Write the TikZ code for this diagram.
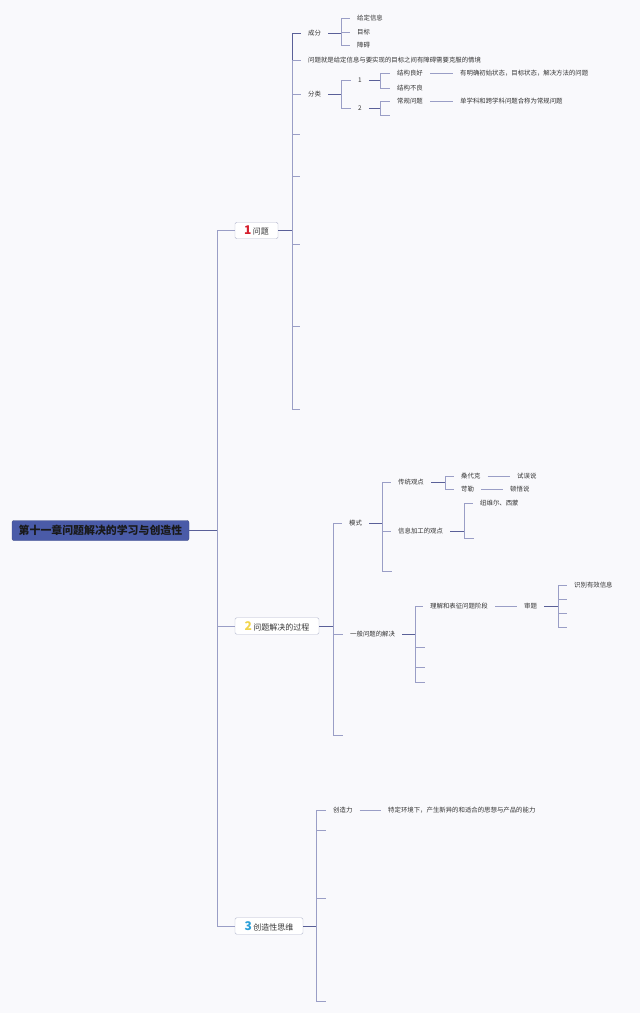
\documentclass[tikz,border=0pt]{standalone}
\usepackage{fontspec}
\setmainfont{Noto Sans CJK SC}
\definecolor{bgc}{HTML}{F9F9FC}
\definecolor{brc}{HTML}{9A9EC6}
\definecolor{dkc}{HTML}{5A6098}
\definecolor{txc}{HTML}{333333}
\definecolor{rootc}{HTML}{4A5BA8}
\definecolor{boxc}{HTML}{B8BBD0}
\definecolor{numa}{HTML}{D6202E}
\definecolor{numb}{HTML}{F2D54A}
\definecolor{numc}{HTML}{2A9FD8}
\tikzset{
  lbl/.style={anchor=west,inner xsep=7pt,inner ysep=1pt,text=txc,font=\fontsize{6.4}{7}\selectfont},
  br/.style={draw=brc,line width=0.7pt},
  dk/.style={draw=dkc,line width=0.8pt},
  rootbox/.style={fill=rootc,draw=rootc!80!black,rounded corners=2pt,minimum width=177pt,minimum height=20pt,inner sep=0pt,text=black!90,font=\fontsize{10.9}{12}\selectfont\bfseries},
  topic/.style={fill=white,draw=boxc,rounded corners=1.5pt,minimum height=16.5pt,inner sep=0pt,text=txc,font=\fontsize{8}{9}\selectfont}
}
\begin{document}
\begin{tikzpicture}[x=1pt,y=-1pt]
\fill[bgc] (0,0) rectangle (640,1013);
\useasboundingbox (0,0) rectangle (640,1013);

% root and main topics
\node[rootbox] (root) at (100.5,530.5) {第十一章问题解决的学习与创造性};
\node[topic,minimum width=43pt] (n1) at (256.5,230.5) {{\fontsize{12}{12}\selectfont\bfseries\color{numa}1}\,问题};
\node[topic,minimum width=84pt] (n2) at (277,626) {{\fontsize{12}{12}\selectfont\bfseries\color{numb}2}\,问题解决的过程};
\node[topic,minimum width=68pt] (n3) at (269,926) {{\fontsize{12}{12}\selectfont\bfseries\color{numc}3}\,创造性思维};

\coordinate (jr) at (217,530.5);
\draw[dk] (root.east) -- (jr);
\draw[br] (jr) |- (n1.west);
\draw[br] (jr) |- (n2.west);
\draw[br] (jr) |- (n3.west);

% ---------- section 1 ----------
\coordinate (j1) at (292,230.5);
\draw[dk] (n1.east) -- (j1);
\node[lbl] (c1) at (301,33) {成分};
\node[lbl] (c2) at (301,60) {问题就是给定信息与要实现的目标之间有障碍需要克服的情境};
\node[lbl] (c3) at (301,94) {分类};
\foreach \y/\n in {134/a,176/b,244/c,326/d,409/e} \coordinate (e1\n) at (300,\y);
\draw[dk] (j1) |- (c1.west);
\draw[br] (j1) |- (c2.west);
\draw[br] (j1) |- (c3.west);
\foreach \n in {a,b,c,d,e} \draw[br] (j1) |- (e1\n);

\coordinate (j11) at (341,33);
\draw[dk] (c1.east) -- (j11);
\node[lbl] (c1a) at (350,18) {给定信息};
\node[lbl] (c1b) at (350,32) {目标};
\node[lbl] (c1c) at (350,45) {障碍};
\draw[br] (j11) |- (c1a.west);
\draw[br] (j11) |- (c1b.west);
\draw[br] (j11) |- (c1c.west);

\coordinate (j13) at (341,94);
\draw[dk] (c3.east) -- (j13);
\node[lbl] (c31) at (351,80) {1};
\node[lbl] (c32) at (351,108) {2};
\draw[br] (j13) |- (c31.west);
\draw[br] (j13) |- (c32.west);

\coordinate (j131) at (380,80);
\draw[dk] (c31.east) -- (j131);
\node[lbl] (c311) at (390,73) {结构良好};
\node[lbl] (c312) at (390,88) {结构不良};
\draw[br] (j131) |- (c311.west);
\draw[br] (j131) |- (c312.west);
\node[lbl] (c3111) at (453,73) {有明确初始状态，目标状态，解决方法的问题};
\draw[br] (c311.east) -- (c3111.west);

\coordinate (j132) at (380,108);
\draw[dk] (c32.east) -- (j132);
\node[lbl] (c321) at (390,101) {常规问题};
\coordinate (e132) at (390,115);
\draw[br] (j132) |- (c321.west);
\draw[br] (j132) |- (e132);
\node[lbl] (c3211) at (453,101) {单学科和跨学科问题合称为常规问题};
\draw[br] (c321.east) -- (c3211.west);

% ---------- section 2 ----------
\coordinate (j2) at (333,626);
\draw[dk] (n2.east) -- (j2);
\node[lbl] (m) at (342,523) {模式};
\node[lbl] (g) at (343,634) {一般问题的解决};
\coordinate (e2) at (343,735);
\draw[br] (j2) |- (m.west);
\draw[br] (j2) |- (g.west);
\draw[br] (j2) |- (e2);

\coordinate (j21) at (382,523);
\draw[dk] (m.east) -- (j21);
\node[lbl] (t) at (391,482) {传统观点};
\node[lbl] (x) at (391,531) {信息加工的观点};
\coordinate (e21) at (392,571);
\draw[br] (j21) |- (t.west);
\draw[br] (j21) |- (x.west);
\draw[br] (j21) |- (e21);

\coordinate (j211) at (445,482);
\draw[dk] (t.east) -- (j211);
\node[lbl] (t1) at (454,476) {桑代克};
\node[lbl] (t2) at (454,489) {苛勒};
\draw[br] (j211) |- (t1.west);
\draw[br] (j211) |- (t2.west);
\node[lbl] (t11) at (510,476) {试误说};
\node[lbl] (t21) at (503,489) {顿悟说};
\draw[br] (t1.east) -- (t11.west);
\draw[br] (t2.east) -- (t21.west);

\coordinate (j212) at (464,531);
\draw[dk] (x.east) -- (j212);
\node[lbl] (x1) at (473,503) {纽维尔、西蒙};
\coordinate (e212) at (474,538);
\draw[br] (j212) |- (x1.west);
\draw[br] (j212) |- (e212);

\coordinate (j22) at (415,634);
\draw[dk] (g.east) -- (j22);
\node[lbl] (g1) at (423,606) {理解和表征问题阶段};
\foreach \y/\n in {647/a,667/b,682/c} \coordinate (e22\n) at (425,\y);
\draw[br] (j22) |- (g1.west);
\foreach \n in {a,b,c} \draw[br] (j22) |- (e22\n);
\node[lbl] (g11) at (517,606) {审题};
\draw[br] (g1.east) -- (g11.west);

\coordinate (j221) at (558,606);
\draw[dk] (g11.east) -- (j221);
\node[lbl] (g111) at (567,585) {识别有效信息};
\foreach \y/\n in {599/a,613/b,627/c} \coordinate (e221\n) at (567,\y);
\draw[br] (j221) |- (g111.west);
\foreach \n in {a,b,c} \draw[br] (j221) |- (e221\n);

% ---------- section 3 ----------
\coordinate (j3) at (316,926);
\draw[dk] (n3.east) -- (j3);
\node[lbl] (k) at (326,810) {创造力};
\foreach \y/\n in {830/a,898/b,1001/c} \coordinate (e3\n) at (326,\y);
\draw[br] (j3) |- (k.west);
\foreach \n in {a,b,c} \draw[br] (j3) |- (e3\n);
\node[lbl] (k1) at (381,810) {特定环境下，产生新异的和适合的思想与产品的能力};
\draw[br] (k.east) -- (k1.west);
\end{tikzpicture}
\end{document}
